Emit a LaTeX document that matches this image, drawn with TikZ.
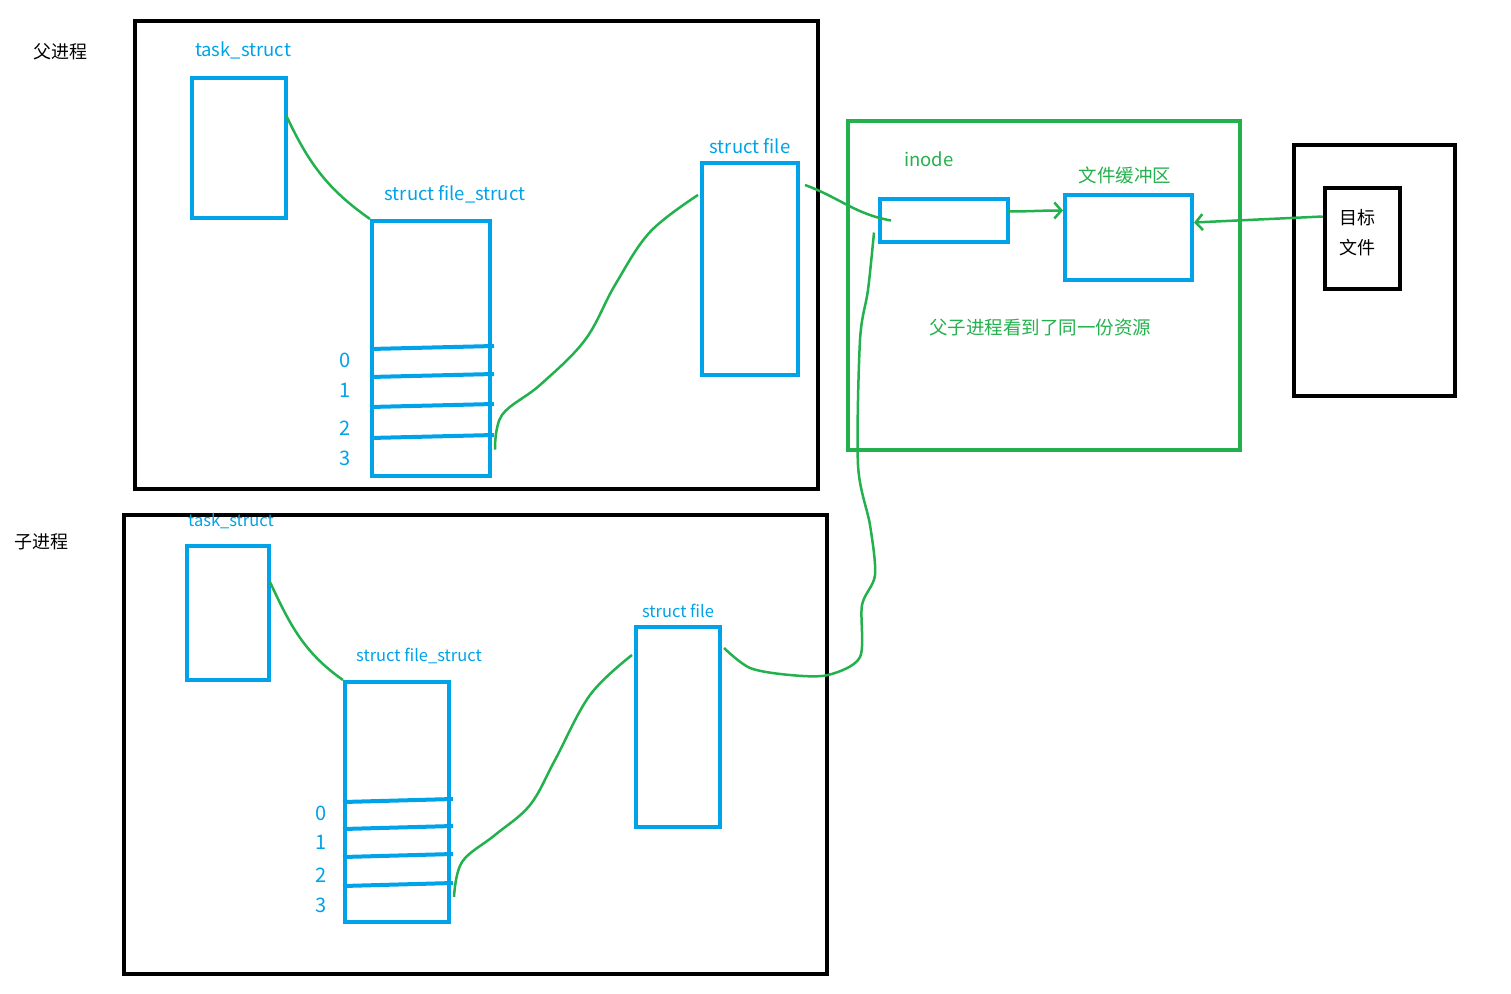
\documentclass[tikz,border=0pt]{standalone}
\usepackage{fontspec}
\setmainfont{Noto Sans CJK SC}
\usetikzlibrary{arrows.meta, positioning, calc}
\definecolor{pblue}{RGB}{0,162,232}
\definecolor{pgreen}{RGB}{34,177,76}

\begin{document}
\begin{tikzpicture}[x=1pt, y=-1pt,
  proc/.style={draw=black, line width=4.5pt, inner sep=0pt},
  kbox/.style={draw=pblue, line width=4pt, inner sep=0pt},
  gbox/.style={draw=pgreen, line width=4pt, inner sep=0pt},
  kline/.style={pblue, line width=4pt},
  link/.style={pgreen, line width=2.5pt},
  harrow/.style={link, -{Straight Barb[length=7pt, width=16pt, line width=2.5pt]}},
  lbl/.style={text=pblue, inner sep=0pt, font=\fontsize{18.5}{21}\selectfont},
  slbl/.style={text=pblue, inner sep=0pt, font=\fontsize{16.5}{19}\selectfont},
  glbl/.style={text=pgreen, inner sep=0pt, font=\fontsize{18.5}{21}\selectfont},
  klbl/.style={text=black, inner sep=0pt, font=\fontsize{18}{21}\selectfont},
  digit/.style={text=pblue, inner sep=0pt, font=\fontsize{20}{22}\selectfont}]
  \useasboundingbox (0,0) rectangle (1511,993);

  % parent process
  \node[proc, minimum width=683pt, minimum height=468pt] (par) at (476.5,255) {};
  \node[klbl] (parlbl) at (60,52) {父进程};
  \node[kbox, minimum width=94pt, minimum height=140pt] (ptask) at (239,148) {};
  \node[lbl] (ptasklbl) at (243,50) {task\_struct};
  \node[kbox, minimum width=118pt, minimum height=255pt] (pfs) at (431,348.5) {};
  \node[lbl] (pfslbl) at (455,194) {struct file\_struct};
  \node[kbox, minimum width=96pt, minimum height=212pt] (pfile) at (750,269) {};
  \node[lbl] (pfilelbl) at (750,146) {struct file};
  \foreach \r in {128,156,186,217}
    \draw[kline] ($(pfs.north west)+(0,\r+2)$) -- ($(pfs.north east)+(2,\r-1)$);
  \foreach \d/\yy in {0/360,1/390,2/428,3/458}
    \node[digit] (pd\d) at (345,\yy) {\d};

  % child process
  \node[proc, minimum width=703pt, minimum height=459pt] (chi) at (475.5,744.5) {};
  \node[klbl] (chilbl) at (41,542) {子进程};
  \node[kbox, minimum width=82pt, minimum height=134pt] (ctask) at (228,613) {};
  \node[slbl] (ctasklbl) at (231,521) {task\_struct};
  \node[kbox, minimum width=104pt, minimum height=240pt] (cfs) at (397,802) {};
  \node[slbl] (cfslbl) at (419,656) {struct file\_struct};
  \node[kbox, minimum width=84pt, minimum height=200pt] (cfile) at (678,727) {};
  \node[slbl] (cfilelbl) at (678,611) {struct file};
  \foreach \r in {120,147,175,204}
    \draw[kline] ($(cfs.north west)+(0,\r+2)$) -- ($(cfs.north east)+(2,\r-1)$);
  \foreach \d/\yy in {0/813,1/842,2/875,3/905}
    \node[digit] (cd\d) at (321,\yy) {\d};

  % kernel side
  \node[gbox, minimum width=392pt, minimum height=329pt] (grn) at (1044,285.5) {};
  \node[kbox, minimum width=128pt, minimum height=43pt] (inode) at (944,220.5) {};
  \node[glbl] (inodelbl) at (929,159) {inode};
  \node[kbox, minimum width=127pt, minimum height=85pt] (buf) at (1128.5,237.5) {};
  \node[glbl] (buflbl) at (1125,175) {文件缓冲区};
  \node[glbl] (share) at (1040,328) {父子进程看到了同一份资源};

  % disk
  \node[proc, minimum width=161pt, minimum height=251pt] (disk) at (1374.5,270.5) {};
  \node[proc, minimum width=75pt, minimum height=101pt] (target) at (1362.5,238.5) {};
  \node[klbl, align=left] (tgtlbl) at (1357,233) {目标\\[9pt]文件};

  % links
  \draw[link] ($(ptask.east)+(-2,-33)$) to[out=-65, in=145] (pfs.north west);
  \draw[link] plot[smooth, tension=0.6] coordinates {($(pfs.east)+(3,101)$)
    (502,415) (540,385) (585,340) (615,285) (650,232) ($(pfile.west)+(-2,-74)$)};
  \draw[link] ($(pfile.east)+(5,-84)$) to[out=-20, in=170] ($(inode.west)+(13,0)$);
  \draw[link] ($(ctask.east)+(-1,-31)$) to[out=-65, in=145] (cfs.north west);
  \draw[link] plot[smooth, tension=0.6] coordinates {($(cfs.east)+(3,95)$)
    (462,862) (495,835) (530,805) (555,760) (590,695) ($(cfile.west)+(-2,-72)$)};
  \coordinate (up) at ($(inode.west)+(-4,12)$);
  \draw[link] plot[smooth, tension=0.5] coordinates {($(cfile.east)+(2,-79)$)
    (750,668) (790,675) (828,675) (860,657) (862,605) (875,575) (870,525)
    (858,465) (860,340) (868,290) (up)};
  \draw[harrow] ($(inode.east)+(-3,-9)$) to[out=0, in=180] ($(buf.west)+(0,-27)$);
  \draw[harrow] ($(target.west)+(0,-22)$) -- ($(buf.east)+(0,-15)$);
\end{tikzpicture}
\end{document}
